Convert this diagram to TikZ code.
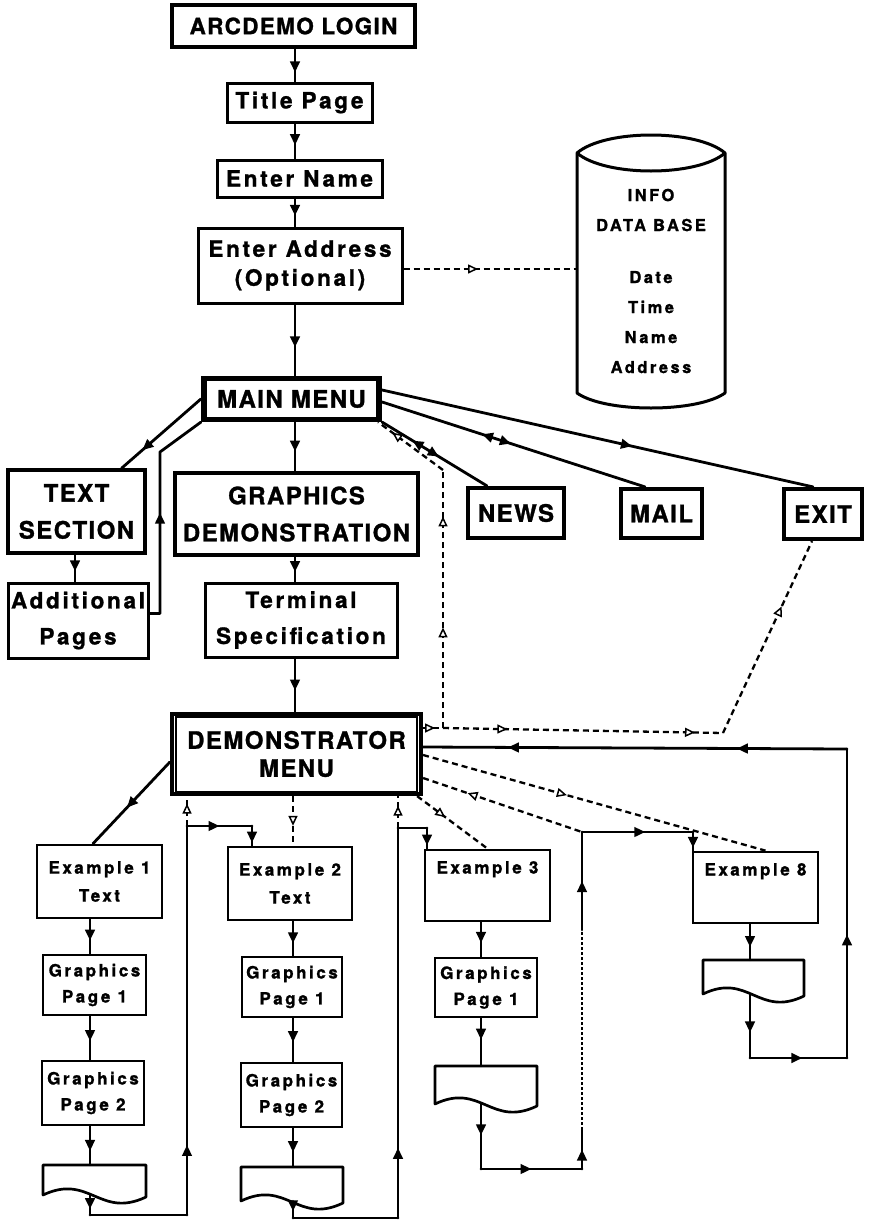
\documentclass[tikz,border=0pt]{standalone}
\usepackage{fontspec}
\usetikzlibrary{arrows.meta,decorations.markings,calc}
\newfontfamily\hvA{TeX Gyre Heros}[LetterSpace=6, BoldFeatures={FakeBold=1.2}]
\newfontfamily\hvB{TeX Gyre Heros}[LetterSpace=12, BoldFeatures={FakeBold=1.2}]
\newfontfamily\hvC{TeX Gyre Heros}[LetterSpace=15, BoldFeatures={FakeBold=1.2}]
\newcommand\DocShape[4]{%
  \draw[docb] (#1,#3) -- (#2,#3) -- (#2,{#4+2})
    .. controls ({#1+0.55*(#2-#1)},{#4+24}) and ({#1+0.45*(#2-#1)},{#4-22}) .. (#1,#4) -- cycle;}
\tikzset{
  base/.style={draw, align=center, inner sep=0pt, line width=3pt},
  ftop/.style={font=\hvA\bfseries\fontsize{22.5}{28}\selectfont},
  fmix/.style={font=\hvB\bfseries\fontsize{22.5}{29}\selectfont},
  fmixb/.style={font=\hvB\bfseries\fontsize{22.5}{36}\selectfont},
  fcap/.style={font=\hvA\bfseries\fontsize{24}{37}\selectfont},
  fsm/.style={font=\hvC\bfseries\fontsize{17}{28}\selectfont},
  fsmb/.style={font=\hvC\bfseries\fontsize{17}{26}\selectfont},
  fdb/.style={font=\hvC\bfseries\fontsize{16.5}{30}\selectfont},
  docb/.style={line width=2.7pt, line join=round},
  conn/.style={line width=2.8pt, line cap=round, line join=round},
  dconn/.style={line width=2.3pt, dash pattern=on 6pt off 4pt},
  tconn/.style={line width=1.6pt, dash pattern=on 3pt off 2pt},
  fa/.style={postaction={decorate,decoration={markings,
      mark=at position #1 with {\arrow{Triangle[length=11pt,width=9.5pt]}}}}},
  fr/.style={postaction={decorate,decoration={markings,
      mark=at position #1 with {\arrowreversed{Triangle[length=11pt,width=9.5pt]}}}}},
  oa/.style={postaction={decorate,decoration={markings,
      mark=at position #1 with {\arrow{Triangle[open,fill=white,line width=1.5pt,length=10pt,width=9pt]}}}}},
  or/.style={postaction={decorate,decoration={markings,
      mark=at position #1 with {\arrowreversed{Triangle[open,fill=white,line width=1.5pt,length=10pt,width=9pt]}}}}},
}
\begin{document}
\begin{tikzpicture}[x=1pt,y=-1pt]
\useasboundingbox (0,0) rectangle (879,1221);
% column coordinates
\coordinate (sp) at (295,0);
\coordinate (col1) at (90,0);
\coordinate (col2) at (293,0);
\coordinate (col3) at (481,0);
\coordinate (col8) at (750,0);

% top chain
\node[base, line width=4.2pt, ftop, minimum width=243pt, minimum height=42pt] (login) at (293.5,26) {ARCDEMO LOGIN};
\node[base, fmix, minimum width=145pt, minimum height=39pt] (title) at (299.5,102.5) {Title Page};
\node[base, fmix, minimum width=165pt, minimum height=37pt] (name) at (299.5,178.5) {Enter Name};
\node[base, fmix, minimum width=204pt, minimum height=75pt] (addr) at (300,265.5) {Enter Address\\(Optional)};

% database cylinder
\draw[line width=3pt, line join=round] (577,153) .. controls (605,129) and (697,129) .. (725,153)
  -- (725,393) .. controls (697,413) and (605,413) .. (577,393) -- cycle;
\draw[line width=3pt] (577,153) .. controls (605,177) and (697,177) .. (725,153);
\node[fdb, align=center, inner sep=0pt, minimum width=148pt, minimum height=240pt] (db) at (651,281)
  {INFO\\DATA BASE\\[22pt]Date\\Time\\Name\\Address};

% main menu
\node[base, line width=4.2pt, font=\hvA\bfseries\fontsize{24}{28}\selectfont, minimum width=177pt, minimum height=42pt] (mm) at (291.5,399) {MAIN MENU};
\draw[line width=1.4pt] ([shift={(5,4)}]mm.north west) rectangle ([shift={(-5,-4)}]mm.south east);

\node[base, line width=3.4pt, fcap, minimum width=137pt, minimum height=83pt] (textsec) at (76.5,511.5) {TEXT\\SECTION};
\node[base, fmixb, minimum width=140pt, minimum height=75pt] (addl) at (78,620.5) {Additional\\Pages};
\node[base, line width=3.4pt, fcap, minimum width=243pt, minimum height=82pt] (gdemo) at (296.5,514) {GRAPHICS\\DEMONSTRATION};
\node[base, fmixb, minimum width=192pt, minimum height=74pt] (term) at (301,620) {Terminal\\Specification};
\node[base, line width=4.2pt, fcap, minimum width=96pt, minimum height=50pt] (news) at (516,513) {NEWS};
\node[base, line width=4.2pt, fcap, minimum width=81pt, minimum height=49pt] (mail) at (661.5,513.5) {MAIL};
\node[base, line width=4.2pt, fcap, minimum width=78pt, minimum height=50pt] (exit) at (823,514) {EXIT};

% demonstrator menu
\node[base, line width=4.2pt, font=\hvA\bfseries\fontsize{24}{28}\selectfont, minimum width=249pt, minimum height=80pt] (dmenu) at (296.5,754) {DEMONSTRATOR\\MENU};
\draw[line width=1.4pt] ([shift={(6,5)}]dmenu.north west) rectangle ([shift={(-6,-4)}]dmenu.south east);

% examples
\node[base, line width=2.7pt, fsm, minimum width=125pt, minimum height=73pt] (ex1) at (99.5,881.5) {Example 1\\Text};
\node[base, line width=2.7pt, fsmb, minimum width=103pt, minimum height=60pt] (g11) at (94.5,985) {Graphics\\Page 1};
\node[base, line width=2.7pt, fsmb, minimum width=102pt, minimum height=64pt] (g12) at (93,1093) {Graphics\\Page 2};
\node[minimum width=103pt, minimum height=30pt, inner sep=0pt] (doc1) at (94.5,1180) {};
\DocShape{43}{146}{1165}{1195}

\node[base, line width=2.7pt, fsm, minimum width=124pt, minimum height=73pt] (ex2) at (290,883.5) {Example 2\\Text};
\node[base, line width=2.7pt, fsmb, minimum width=100pt, minimum height=60pt] (g21) at (292,987) {Graphics\\Page 1};
\node[base, line width=2.7pt, fsmb, minimum width=101pt, minimum height=64pt] (g22) at (291.5,1095) {Graphics\\Page 2};
\node[minimum width=102pt, minimum height=34pt, inner sep=0pt] (doc2) at (292,1184) {};
\DocShape{241}{343}{1167}{1201}

\node[base, line width=2.7pt, fsm, minimum width=125pt, minimum height=71pt] (ex3) at (487.5,885.5) {Example 3\\\strut};
\node[base, line width=2.7pt, fsmb, minimum width=102pt, minimum height=59pt] (g31) at (486,987.5) {Graphics\\Page 1};
\node[minimum width=102pt, minimum height=38pt, inner sep=0pt] (doc3) at (486,1085) {};
\DocShape{435}{537}{1066}{1104}

\node[base, line width=2.7pt, fsm, minimum width=125pt, minimum height=71pt] (ex8) at (755.5,887.5) {Example 8\\\strut};
\node[minimum width=101pt, minimum height=34pt, inner sep=0pt] (doc8) at (753.5,977) {};
\DocShape{703}{804}{960}{994}

% ---------- connectors: top chain
\draw[conn, fa=.72] (login.south -| sp) -- (title.north -| sp);
\draw[conn, fa=.62] (title.south -| sp) -- (name.north -| sp);
\draw[conn, fa=.62] (name.south -| sp) -- (addr.north -| sp);
\draw[conn, fa=.6] (addr.south -| sp) -- (mm.north -| sp);
\draw[dconn, oa=.43] ([yshift=-3.5pt]addr.east) -- ([yshift=-3.5pt]addr.east -| db.west);

% main menu branches
\draw[conn, fa=.74] (mm.west) -- ([xshift=45pt]textsec.north);
\coordinate (r1) at (160,452);
\draw[conn, fa=.5] ([yshift=7pt]addl.east) -| (r1) -- (mm.south west);
\draw[conn, fa=.62] (textsec.south -| 75,0) -- (addl.north -| 75,0);
\draw[conn, fa=.6] (mm.south -| sp) -- (gdemo.north -| sp);
\draw[conn, fa=.62] (gdemo.south -| sp) -- (term.north -| sp);
\draw[conn, fa=.6] (term.south -| sp) -- (dmenu.north -| sp);
\draw[conn, fa=.58] ([yshift=9pt]mm.east) -- ([xshift=-10pt]exit.north);
\draw[conn, fr=.38, fa=.49] ([yshift=-3pt]mm.east) -- ([xshift=-16.5pt]mail.north);
\draw[conn, fr=.29, fa=.54] (mm.south east) -- ([xshift=-29pt]news.north);

% dashed returns to main menu and exit
\coordinate (q1) at (443,728);
\coordinate (q2) at (443,470);
\coordinate (q3) at (723,733);
\draw[dconn, oa=.6] ([yshift=26pt]dmenu.east) -- (q1);
\draw[dconn, oa=.39, oa=.82] (q1) -- (q2);
\draw[dconn, oa=.78] (q2) -- ([xshift=-4pt]mm.south east);
\draw[dconn, oa=.23, oa=.9] (q1) -- (q3);
\draw[dconn, oa=.66] (q3) -- ([xshift=-11pt]exit.south);

% demonstrator branches
\draw[conn, fa=.56] ([yshift=-8pt]dmenu.west) -- ([xshift=-6.5pt]ex1.north);
\draw[dconn, oa=.6] (dmenu.south -| col2) -- (ex2.north -| col2);
\draw[dconn, oa=.4] ([xshift=-6pt]dmenu.south east) -- (ex3.north);
\draw[dconn, oa=.42] ([yshift=-1pt]dmenu.east) -- ([xshift=10pt]ex8.north);

% example 1 column
\coordinate (l1a) at (90,1215);
\coordinate (l1b) at (187,1215);
\coordinate (l1c) at (187,826);
\coordinate (l1d) at (252,826);
\draw[conn, fa=.62] (ex1.south -| col1) -- (g11.north -| col1);
\draw[conn, fa=.57] (g11.south -| col1) -- (g12.north -| col1);
\draw[conn, fa=.64] (g12.south -| col1) -- (doc1.north -| col1);
\draw[conn, fa=.7] (doc1.south -| col1) -- (l1a);
\draw[conn] (l1a) -- (l1b);
\draw[conn, fa=.18] (l1b) -- (l1c);
\draw[conn, fa=.5] (l1c) -- (l1d);
\draw[conn, fa=.85] (l1d) -- (l1d |- ex2.north);
\draw[dconn, oa=.75] (l1c) -- (l1c |- dmenu.south);

% example 2 column
\coordinate (l2a) at (293,1218);
\coordinate (l2b) at (398,1218);
\coordinate (l2c) at (398,828);
\coordinate (l2d) at (427,828);
\draw[conn, fa=.64] (ex2.south -| col2) -- (g21.north -| col2);
\draw[conn, fa=.55] (g21.south -| col2) -- (g22.north -| col2);
\draw[conn, fa=.62] (g22.south -| col2) -- (doc2.north -| col2);
\draw[conn, fa=.6] (doc2.south -| col2) -- (l2a);
\draw[conn] (l2a) -- (l2b);
\draw[conn, fa=.18] (l2b) -- (l2c);
\draw[conn] (l2c) -- (l2d);
\draw[conn, fa=.85] (l2d) -- (l2d |- ex3.north);
\draw[dconn, oa=.7] (l2c) -- (l2c |- dmenu.south);

% example 3 column
\coordinate (l3a) at (481,1169);
\coordinate (l3b) at (582,1169);
\coordinate (l3c) at (582,1130);
\coordinate (l3e) at (582,930);
\coordinate (l3f) at (582,832);
\coordinate (l3g) at (693,832);
\draw[conn, fa=.6] (ex3.south -| col3) -- (g31.north -| col3);
\draw[conn, fa=.45] (g31.south -| col3) -- (doc3.north -| col3);
\draw[conn, fa=.48] (doc3.south -| col3) -- (l3a);
\draw[conn, fa=.5] (l3a) -- (l3b);
\draw[conn, fa=.5] (l3b) -- (l3c);
\draw[tconn] (l3c) -- (l3e);
\draw[conn, fa=.5] (l3e) -- (l3f);
\draw[conn, fa=.57] (l3f) -- (l3g);
\draw[conn, fa=.85] (l3g) -- (l3g |- ex8.north);
\draw[dconn, or=.28] ([yshift=-24pt]dmenu.east) -- (l3f);

% example 8 column and return
\coordinate (l8a) at (750,1058);
\coordinate (l8b) at (847,1058);
\coordinate (l8c) at (847,749);
\draw[conn, fa=.64] (ex8.south -| col8) -- (doc8.north -| col8);
\draw[conn, fa=.6] (doc8.south -| col8) -- (l8a);
\draw[conn, fa=.54] (l8a) -- (l8b);
\draw[conn, fa=.4] (l8b) -- (l8c);
\draw[conn, fa=.26, fa=.8] (l8c) -- ([yshift=7pt]dmenu.east);
\end{tikzpicture}
\end{document}
